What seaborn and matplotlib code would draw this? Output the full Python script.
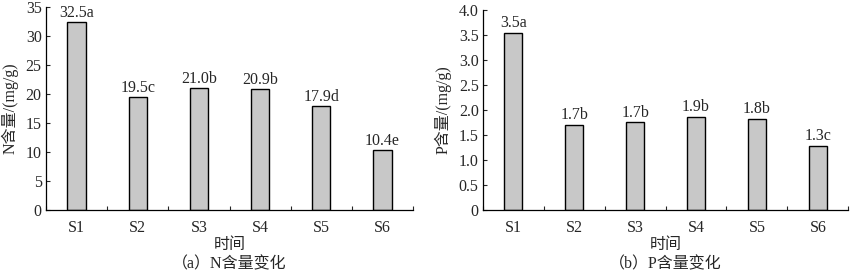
import matplotlib
matplotlib.use("Agg")
import matplotlib.pyplot as plt
import seaborn as sns
import pandas as pd
import numpy as np
from matplotlib.ticker import FixedLocator, MultipleLocator, FuncFormatter

sns.set_theme(style="white")
plt.rcParams['font.family'] = ['Liberation Serif', 'Noto Sans CJK SC']

categories = ["S1", "S2", "S3", "S4", "S5", "S6"]
n_values = [32.5, 19.5, 21.0, 20.9, 17.9, 10.4]
n_labels = ["32.5a", "19.5c", "21.0b", "20.9b", "17.9d", "10.4e"]
p_values = [3.55, 1.71, 1.76, 1.87, 1.83, 1.29]
p_labels = ["3.5a", "1.7b", "1.7b", "1.9b", "1.8b", "1.3c"]

fig = plt.figure(figsize=(8.5, 2.72), dpi=100)
ax1 = fig.add_axes([0.054, 0.228, 0.432, 0.745])
ax2 = fig.add_axes([0.568, 0.228, 0.430, 0.735])

fs = 11.5
def draw(ax, vals, labels, ylim, step, fmt, ylabel, caption):
    df = pd.DataFrame({"cat": categories, "val": vals})
    sns.barplot(data=df, x="cat", y="val", ax=ax, color="#c8c8c8",
                edgecolor="black", linewidth=1.0, width=0.3, saturation=1)
    for i, (v, l) in enumerate(zip(vals, labels)):
        ax.text(i, v + ylim * 0.006, l, ha="center", va="bottom", fontsize=fs)
    ax.set_xlim(-0.5, 5.5)
    ax.set_ylim(0, ylim)
    ax.yaxis.set_major_locator(MultipleLocator(step))
    ax.yaxis.set_major_formatter(FuncFormatter(fmt))
    ax.xaxis.set_minor_locator(FixedLocator(np.arange(-0.5, 6, 1.0)))
    ax.tick_params(axis="x", which="major", length=0, labelsize=fs, pad=7)
    ax.tick_params(axis="x", which="minor", direction="in", length=3, width=0.8, bottom=True)
    ax.tick_params(axis="y", which="major", direction="in", length=3, width=0.8, left=True, labelsize=fs, pad=3)
    for s in ["top", "right"]:
        ax.spines[s].set_visible(False)
    for s in ["left", "bottom"]:
        ax.spines[s].set_color("black")
        ax.spines[s].set_linewidth(0.9)
    ax.set_xlabel("时间", fontsize=fs, labelpad=1)
    ax.set_ylabel(ylabel, fontsize=fs, labelpad=5)
    h = ax.get_position().height * 272
    ax.text(0.5, -54 / h, caption, transform=ax.transAxes, ha="center", va="center", fontsize=fs)

draw(ax1, n_values, n_labels, 35, 5, lambda v, p: f"{v:.0f}", "N含量/(mg/g)", "（a）N含量变化")
draw(ax2, p_values, p_labels, 4.0, 0.5, lambda v, p: "0" if v == 0 else f"{v:.1f}", "P含量/(mg/g)", "（b）P含量变化")

fig.savefig("out.png", dpi=100)
